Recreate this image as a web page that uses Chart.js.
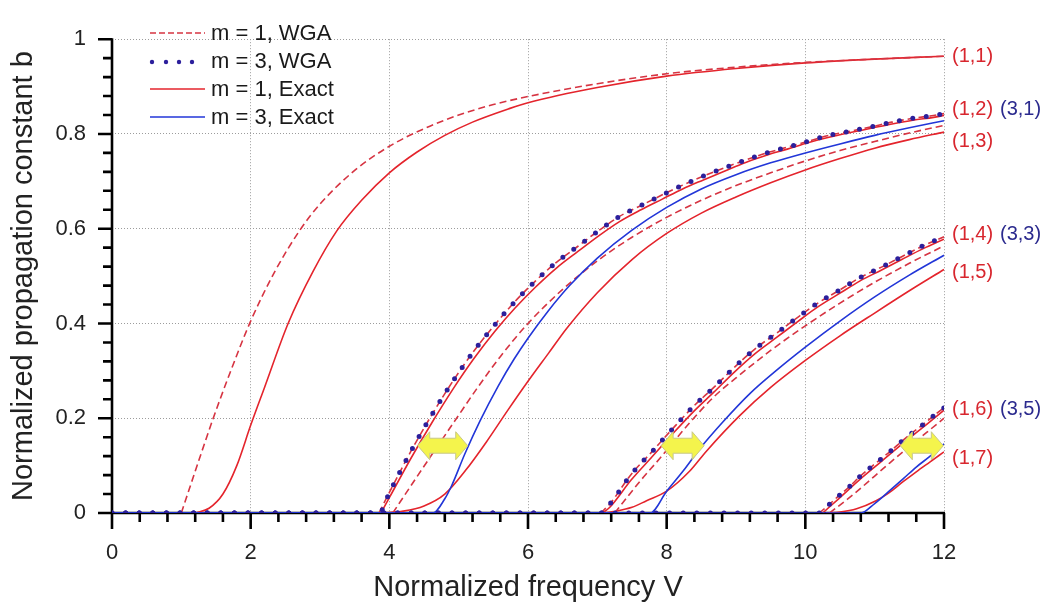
<!DOCTYPE html>
<html><head><meta charset="utf-8">
<script src="https://cdn.jsdelivr.net/npm/chart.js@4.4.1/dist/chart.umd.min.js"></script>
<style>html,body{margin:0;padding:0;background:#fff}canvas{display:block}</style>
</head><body>
<canvas id="c" width="1048" height="610"></canvas>
<script>
// ---------- tick labels ----------
const xTickLabels = ['0','2','4','6','8','10','12'];
const yTickLabels = ['0','0.2','0.4','0.6','0.8','1'];

// ---------- mode curves (V, b) ----------
// (1,1)
const V_11w = [1.0,1.2,1.46,1.7,2.0,2.35,2.71,3.0,3.5,4.0,4.5,5.0,5.5,6.0,7.0,8.0,9.0,10.0,11.0,12.0];
const B_11w = [0,0.088,0.2,0.295,0.405,0.51,0.597,0.652,0.723,0.774,0.811,0.84,0.862,0.879,0.906,0.927,0.941,0.951,0.958,0.964];
const V_11e = [1.2,1.4,1.6,1.8,2.0,2.2,2.54,2.9,3.24,3.6,4.0,4.4,4.8,5.2,5.74,6.0,7.0,8.0,9.0,10.0,11.0,12.0];
const B_11e = [0,0.01,0.04,0.1,0.185,0.265,0.4,0.51,0.595,0.66,0.718,0.762,0.797,0.825,0.854,0.866,0.898,0.922,0.938,0.95,0.958,0.964];
// (3,1) WGA  == (1,2) WGA
const V_31w = [3.85,4.01,4.31,4.62,4.92,5.22,5.52,5.81,6.11,6.41,6.72,7.02,7.32,7.63,7.93,8.23,8.53,8.84,9.14,9.44,9.74,10.05,10.34,10.65,10.95,11.25,11.55,11.85,12.0];
const B_31w = [0,0.046,0.13,0.209,0.279,0.342,0.397,0.446,0.49,0.529,0.563,0.596,0.626,0.649,0.671,0.692,0.711,0.729,0.745,0.76,0.772,0.785,0.797,0.806,0.815,0.825,0.833,0.839,0.843];
const V_12e = [3.88,4.01,4.31,4.62,4.92,5.22,5.52,5.81,6.11,6.41,6.72,7.02,7.32,7.63,7.93,8.23,8.53,8.84,9.14,9.44,9.74,10.05,10.34,10.65,10.95,11.25,11.55,11.85,12.0];
const B_12e = [0,0.035,0.115,0.192,0.262,0.326,0.383,0.432,0.477,0.517,0.552,0.585,0.615,0.64,0.662,0.684,0.703,0.722,0.74,0.755,0.768,0.782,0.793,0.803,0.812,0.821,0.829,0.835,0.839];
const V_13w = [4.05,4.35,4.58,4.97,5.26,5.6,6.0,6.5,7.0,7.5,8.0,8.5,9.0,9.5,10.0,10.5,11.0,11.5,12.0];
const B_13w = [0,0.066,0.116,0.2,0.262,0.33,0.4,0.472,0.532,0.582,0.624,0.66,0.691,0.718,0.743,0.765,0.784,0.802,0.818];
const V_31e = [0,4.63,4.8,4.9,5.09,5.31,5.57,5.8,6.0,6.3,6.6,7.0,7.5,8.0,8.5,9.0,9.5,10.0,10.5,11.0,11.5,12.0];
const B_31e = [0,0,0.03,0.058,0.125,0.195,0.268,0.325,0.369,0.428,0.48,0.538,0.597,0.645,0.684,0.714,0.739,0.76,0.779,0.797,0.813,0.828];
const V_13e = [3.9,4.2,4.5,4.8,5.1,5.4,5.7,6.0,6.3,6.56,7.0,7.5,8.0,8.5,9.0,9.5,10.0,10.5,11.0,11.5,12.0];
const B_13e = [0,0.004,0.015,0.04,0.09,0.15,0.215,0.278,0.338,0.39,0.465,0.535,0.59,0.633,0.667,0.697,0.724,0.748,0.77,0.788,0.804];
// (3,3) WGA == (1,4) WGA
const V_33w = [7.05,7.18,7.49,7.78,8.08,8.38,8.68,8.98,9.28,9.59,9.89,10.18,10.5,10.79,11.1,11.39,11.7,12.0];
const B_33w = [0,0.019,0.082,0.128,0.177,0.224,0.265,0.308,0.347,0.38,0.413,0.443,0.471,0.497,0.519,0.541,0.564,0.583];
const V_14e = [7.08,7.18,7.49,7.78,8.08,8.38,8.68,8.98,9.28,9.59,9.89,10.18,10.5,10.79,11.1,11.39,11.7,12.0];
const B_14e = [0,0.012,0.07,0.117,0.166,0.213,0.255,0.298,0.337,0.371,0.404,0.435,0.464,0.49,0.513,0.535,0.558,0.578];
const V_15w = [7.25,7.61,7.9,8.33,8.68,9.0,9.5,10.0,10.5,11.0,11.5,12.0];
const B_15w = [0,0.066,0.115,0.19,0.245,0.285,0.343,0.395,0.443,0.487,0.527,0.564];
const V_33e = [0,7.76,8.0,8.24,8.48,8.81,9.2,9.6,10.0,10.5,11.0,11.5,12.0];
const B_33e = [0,0,0.046,0.089,0.136,0.192,0.252,0.303,0.35,0.405,0.456,0.502,0.544];
const V_15e = [7.1,7.23,7.5,7.71,8.0,8.33,8.57,9.05,9.5,10.0,10.5,11.0,11.5,12.0];
const B_15e = [0,0.003,0.012,0.026,0.046,0.088,0.13,0.205,0.265,0.322,0.374,0.422,0.469,0.514];
// (3,5) WGA == (1,6) WGA
const V_35w = [10.2,10.33,10.48,10.64,10.78,10.94,11.09,11.24,11.39,11.54,11.7,11.85,12.0];
const B_35w = [0,0.016,0.036,0.056,0.076,0.096,0.114,0.132,0.151,0.169,0.187,0.205,0.222];
const V_16e = [10.25,10.48,10.78,11.09,11.39,11.7,12.0];
const B_16e = [0,0.03,0.07,0.108,0.145,0.181,0.217];
const V_17w = [10.35,10.7,11.0,11.22,11.5,11.75,12.0];
const B_17w = [0,0.04,0.078,0.106,0.14,0.17,0.2];
const V_35e = [0,10.8,11.0,11.2,11.41,11.6,11.8,12.0];
const B_35e = [0,0,0.02,0.045,0.072,0.097,0.12,0.146];
const V_17e = [10.3,10.5,10.74,11.02,11.2,11.41,11.6,11.8,12.0];
const B_17e = [0,0.002,0.009,0.026,0.042,0.066,0.087,0.108,0.129];

// ---------- annotations ----------
const redLabels = ['(1,1)','(1,2)','(1,3)','(1,4)','(1,5)','(1,6)','(1,7)'];
const redLabelB = [0.963,0.851,0.784,0.588,0.508,0.219,0.116];
const blueLabels = ['(3,1)','(3,3)','(3,5)'];
const blueLabelB = [0.851,0.588,0.219];
const arrowV = [4.77,8.23,11.68];
const arrowB = [0.142,0.142,0.142];
const legendTexts = ['m = 1, WGA','m = 3, WGA','m = 1, Exact','m = 3, Exact'];

// ---------- styles ----------
const FONT = "'Liberation Sans', Arial, Helvetica, sans-serif";
const RED = '#e4242c', RED_D = '#d63442', BLUE = '#2236d8', NAVY = '#2c1f9c';
const pts = (V,B) => V.map((v,i)=>({x:v,y:B[i]}));
const zero = [{x:0,y:0}];

function dotted(V,B){ return {data: zero.concat(pts(V,B)), borderColor:NAVY, borderWidth:5, borderDash:[0,13.6], borderCapStyle:'round', order:0}; }
function blueEx(V,B){ return {data: pts(V,B), borderColor:BLUE, borderWidth:1.6, order:1}; }
function dashed(V,B){ return {data: pts(V,B), borderColor:RED_D, borderWidth:1.6, borderDash:[7,4], order:2}; }
function redEx(V,B){ return {data: pts(V,B), borderColor:RED, borderWidth:1.6, order:3}; }

const datasets = [
  dotted(V_31w,B_31w), dotted(V_33w,B_33w), dotted(V_35w,B_35w),
  blueEx(V_31e,B_31e), blueEx(V_33e,B_33e), blueEx(V_35e,B_35e),
  dashed(V_11w,B_11w), dashed(V_31w,B_31w), dashed(V_13w,B_13w), dashed(V_33w,B_33w), dashed(V_15w,B_15w), dashed(V_35w,B_35w), dashed(V_17w,B_17w),
  redEx(V_11e,B_11e), redEx(V_12e,B_12e), redEx(V_13e,B_13e), redEx(V_14e,B_14e), redEx(V_15e,B_15e), redEx(V_16e,B_16e), redEx(V_17e,B_17e)
].map(d => Object.assign({showLine:true, pointRadius:0, fill:false, cubicInterpolationMode:'monotone'}, d));

function drawArrow(ctx,cx,cy,w){
  const hl=12, bh=7.5, hh=14, l=cx-w/2, r=cx+w/2;
  ctx.beginPath();
  ctx.moveTo(l,cy); ctx.lineTo(l+hl,cy-hh); ctx.lineTo(l+hl,cy-bh); ctx.lineTo(r-hl,cy-bh);
  ctx.lineTo(r-hl,cy-hh); ctx.lineTo(r,cy); ctx.lineTo(r-hl,cy+hh); ctx.lineTo(r-hl,cy+bh);
  ctx.lineTo(l+hl,cy+bh); ctx.lineTo(l+hl,cy+hh); ctx.closePath();
  ctx.fillStyle='#f4f44c'; ctx.fill();
  ctx.strokeStyle='#c8c888'; ctx.lineWidth=1; ctx.stroke();
}

const decor = {
  id:'decor',
  beforeDatasetsDraw(chart){
    const {ctx, scales:{x,y}} = chart;
    const x0=x.getPixelForValue(0), x1=x.getPixelForValue(12), y0=y.getPixelForValue(0), y1=y.getPixelForValue(1);
    ctx.save();
    ctx.strokeStyle='#000'; ctx.lineWidth=2.6; ctx.lineCap='butt';
    ctx.beginPath();
    ctx.moveTo(x0-1,y0); ctx.lineTo(x1+1,y0);
    ctx.moveTo(x0,y0); ctx.lineTo(x0,y1-1);
    for(let i=0;i<=30;i++){ const px=x.getPixelForValue(i*0.4); const L=(i%5===0)?16:9; ctx.moveTo(px,y0); ctx.lineTo(px,y0+L); }
    for(let i=0;i<=25;i++){ const py=y.getPixelForValue(i*0.04); const L=(i%5===0)?14:9; ctx.moveTo(x0,py); ctx.lineTo(x0-L,py); }
    ctx.stroke();
    ctx.restore();
  },
  afterDatasetsDraw(chart){
    const {ctx, scales:{x,y}} = chart;
    ctx.save();
    const widths=[50,43,43];
    arrowV.forEach((v,i)=>drawArrow(ctx, x.getPixelForValue(v), y.getPixelForValue(arrowB[i]), widths[i]));
    ctx.font = '20px '+FONT; ctx.textBaseline='middle'; ctx.textAlign='left';
    const xr = x.getPixelForValue(12);
    ctx.fillStyle='#d8262e';
    redLabels.forEach((t,i)=>ctx.fillText(t, xr+8, y.getPixelForValue(redLabelB[i])));
    ctx.fillStyle='#2b2a8e';
    blueLabels.forEach((t,i)=>ctx.fillText(t, xr+56, y.getPixelForValue(blueLabelB[i])));
    const ly = [33,61,89,117];
    ctx.lineWidth=1.5;
    ctx.strokeStyle=RED_D; ctx.setLineDash([6,3]);
    ctx.beginPath(); ctx.moveTo(150,ly[0]); ctx.lineTo(205,ly[0]); ctx.stroke();
    ctx.setLineDash([]);
    ctx.fillStyle=NAVY;
    [152,166,179,192].forEach(px=>{ ctx.beginPath(); ctx.arc(px,ly[1]+1,2.2,0,Math.PI*2); ctx.fill(); });
    ctx.strokeStyle=RED; ctx.beginPath(); ctx.moveTo(150,ly[2]); ctx.lineTo(205,ly[2]); ctx.stroke();
    ctx.strokeStyle=BLUE; ctx.beginPath(); ctx.moveTo(150,ly[3]); ctx.lineTo(205,ly[3]); ctx.stroke();
    ctx.font='22px '+FONT; ctx.fillStyle='#1a1a1a';
    legendTexts.forEach((t,i)=>ctx.fillText(t, 211, ly[i]+1));
    ctx.restore();
  }
};

const gridColor = c => (c.tick && Math.abs(c.tick.value) < 1e-9) ? 'rgba(0,0,0,0)' : '#9c9c9c';

new Chart(document.getElementById('c'), {
  type:'scatter',
  data:{datasets},
  options:{
    responsive:false, animation:false, devicePixelRatio:1,
    layout:{padding:{left:0,right:104,top:11,bottom:0}},
    plugins:{legend:{display:false}, tooltip:{enabled:false}},
    scales:{
      x:{type:'linear', min:0, max:12,
        afterFit(s){ s.height = 97; },
        ticks:{stepSize:2, autoSkip:false, maxRotation:0, padding:27, color:'#222', font:{family:FONT,size:22},
          callback:(v,i)=>xTickLabels[i]},
        grid:{color:gridColor, lineWidth:1, drawTicks:false},
        border:{display:false, dash:[1,2]},
        title:{display:true, text:'Normalized frequency V', color:'#222', font:{family:FONT,size:29}, padding:{top:0,bottom:5}}
      },
      y:{type:'linear', min:0, max:1,
        afterFit(s){ s.width = 112; },
        ticks:{stepSize:0.2, autoSkip:false, padding:26, color:'#222', font:{family:FONT,size:22},
          callback:(v,i)=>yTickLabels[i]},
        grid:{color:gridColor, lineWidth:1, drawTicks:false},
        border:{display:false, dash:[1,2]},
        title:{display:true, text:'Normalized propagation constant b', color:'#222', font:{family:FONT,size:29}, padding:{top:7,bottom:0}}
      }
    }
  },
  plugins:[decor]
});
</script>
</body></html>
